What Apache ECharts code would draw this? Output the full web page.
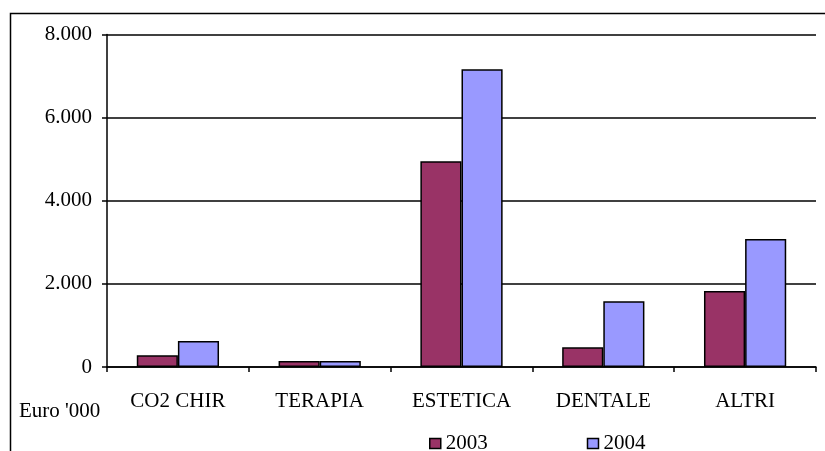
<!DOCTYPE html>
<html>
<head>
<meta charset="utf-8">
<script src="https://cdn.jsdelivr.net/npm/echarts@6/dist/echarts.min.js"></script>
<style>
html,body{margin:0;padding:0;background:#fff;}
#c{width:825px;height:451px;}
</style>
</head>
<body>
<div id="c"></div>
<script>
var categories = ['CO2 CHIR', 'TERAPIA', 'ESTETICA', 'DENTALE', 'ALTRI'];
var values2003 = [280, 145, 4950, 475, 1830];
var values2004 = [625, 145, 7165, 1580, 3080];
var yTicks = [0, 2000, 4000, 6000, 8000];
var seriesNames = ['2003', '2004'];

var FONT = '"Liberation Serif", "Times New Roman", serif';
var chart = echarts.init(document.getElementById('c'), null, {renderer: 'canvas'});
function fmt(v) {
  return String(v).replace(/\B(?=(\d{3})+(?!\d))/g, '.');
}
chart.setOption({
  animation: false,
  backgroundColor: '#fff',
  textStyle: {fontFamily: FONT, color: '#000'},
  grid: {left: 107, right: 9, top: 34.5, bottom: 84, containLabel: false},
  legend: {
    data: seriesNames,
    left: 424,
    top: 428,
    itemWidth: 11,
    itemHeight: 10,
    itemGap: 99,
    icon: 'rect',
    textStyle: {fontFamily: FONT, fontSize: 21, color: '#000', padding: [8, 0, 0, 0]},
    itemStyle: {borderColor: '#000', borderWidth: 1.5}
  },
  xAxis: {
    type: 'category',
    data: categories,
    boundaryGap: true,
    axisLine: {show: true, lineStyle: {color: '#000', width: 1.5}},
    axisTick: {show: true, alignWithLabel: false, length: 5, inside: false, lineStyle: {color: '#000', width: 1.5}},
    axisLabel: {fontFamily: FONT, fontSize: 21, color: '#000', margin: 24},
    splitLine: {show: false}
  },
  yAxis: {
    type: 'value',
    min: yTicks[0],
    max: yTicks[yTicks.length - 1],
    interval: yTicks[1] - yTicks[0],
    axisLine: {show: true, lineStyle: {color: '#000', width: 1.5}},
    axisTick: {show: true, length: 5, lineStyle: {color: '#000', width: 1.5}},
    axisLabel: {fontFamily: FONT, fontSize: 21, color: '#000', margin: 15, formatter: fmt},
    splitLine: {show: true, lineStyle: {color: '#000', width: 1.5}}
  },
  series: [
    {
      name: seriesNames[0], type: 'bar', data: values2003,
      barGap: '0%', barCategoryGap: '42%',
      itemStyle: {color: '#993366', borderColor: '#000', borderWidth: 1.5}
    },
    {
      name: seriesNames[1], type: 'bar', data: values2004,
      barGap: '0%', barCategoryGap: '42%',
      itemStyle: {color: '#9999FF', borderColor: '#000', borderWidth: 1.5}
    }
  ],
  graphic: [
    {
      type: 'rect', left: 8, top: 11, silent: true,
      shape: {x: 0, y: 0, width: 830, height: 460},
      style: {fill: 'none', stroke: '#000', lineWidth: 1.5}
    },
    {
      type: 'text', left: 19, top: 401,
      style: {text: "Euro '000", font: '21px ' + FONT, fill: '#000'}
    }
  ]
});
</script>
</body>
</html>
